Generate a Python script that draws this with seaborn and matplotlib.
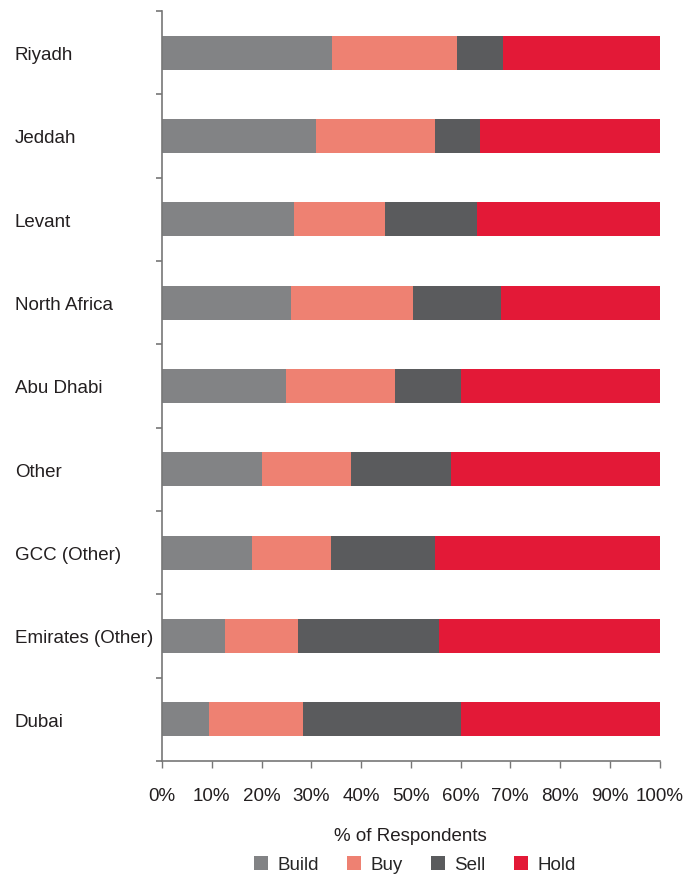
import matplotlib
matplotlib.use("Agg")
import matplotlib.pyplot as plt
import seaborn as sns
import numpy as np
import pandas as pd
from matplotlib.patches import Patch

regions = ["Riyadh", "Jeddah", "Levant", "North Africa", "Abu Dhabi", "Other",
           "GCC (Other)", "Emirates (Other)", "Dubai"]
build = [34.2, 31.0, 26.6, 26.0, 25.0, 20.1, 18.1, 12.7, 9.5]
buy = [25.0, 23.8, 18.3, 24.5, 21.9, 17.8, 15.9, 14.7, 18.9]
sell = [9.4, 9.2, 18.5, 17.6, 13.1, 20.1, 20.9, 28.2, 31.6]
hold = [31.4, 36.0, 36.6, 31.9, 40.0, 42.0, 45.1, 44.4, 40.0]
series = ["Build", "Buy", "Sell", "Hold"]
colors = {"Build": "#828385", "Buy": "#EE8172", "Sell": "#5A5B5D", "Hold": "#E31937"}

sns.set_theme(style="white")
plt.rcParams["font.family"] = ["Liberation Sans", "DejaVu Sans"]

df = pd.DataFrame({"Region": regions, "Build": build, "Buy": buy, "Sell": sell, "Hold": hold})
cum = df[series].cumsum(axis=1)

fig = plt.figure(figsize=(6.97, 8.79), dpi=100)
ax = fig.add_axes([162 / 697, 1 - 762 / 879, (659.5 - 162) / 697, 750 / 879])

for s in reversed(series):
    sns.barplot(x=cum[s], y=df["Region"], orient="h", color=colors[s], width=0.41,
                saturation=1, ax=ax, linewidth=0, edgecolor="none")

ax.set_xlim(0, 100)
ax.set_ylim(8.5, -0.5)
ax.set_xticks(np.arange(0, 101, 10))
ax.set_xticklabels([f"{v}%" for v in range(0, 101, 10)], fontsize=13.5, color="#231F20")
ax.set_yticks(np.arange(-0.5, 9.0, 1.0))
ax.set_yticklabels([])
ax.set_yticks(np.arange(0, 9), minor=True)
ax.set_yticklabels(regions, minor=True, fontsize=13.5, color="#231F20")
ax.tick_params(axis="y", which="major", direction="out", length=4, width=1.2, color="#777777", left=True)
ax.tick_params(axis="y", which="minor", length=0, pad=106)
for lbl in ax.get_yticklabels(minor=True):
    lbl.set_horizontalalignment("left")
ax.tick_params(axis="x", direction="out", length=5, width=1, color="#777777", bottom=True, pad=14)

for side in ["top", "right"]:
    ax.spines[side].set_visible(False)
for side in ["left", "bottom"]:
    ax.spines[side].set_color("#777777")
    ax.spines[side].set_linewidth(1.2)

ax.set_ylabel("")
ax.set_xlabel("% of Respondents", fontsize=13.5, color="#231F20", labelpad=16)

handles = [Patch(facecolor=colors[s], edgecolor="none", label=s) for s in series]
fig.legend(handles=handles, loc="lower center", bbox_to_anchor=(0.595, -0.014), ncol=4,
           frameon=False, fontsize=13.5, handlelength=0.75, handleheight=0.75,
           columnspacing=1.5, handletextpad=0.5)

fig.savefig("out.png", dpi=100)
